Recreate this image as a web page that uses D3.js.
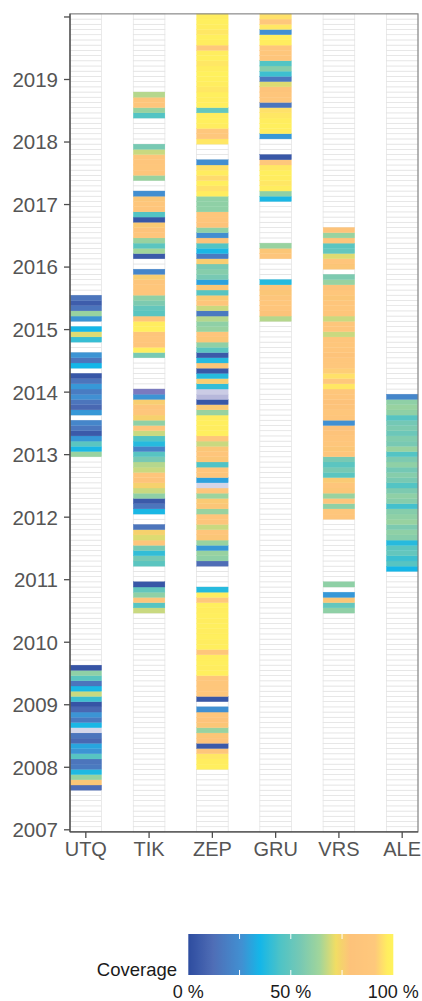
<!DOCTYPE html>
<html>
<head>
<meta charset="utf-8">
<script src="https://cdn.jsdelivr.net/npm/d3@7"></script>
<style>
  body { margin: 0; background: #fff; }
  svg { display: block; font-family: "Liberation Sans", Arial, sans-serif; }
</style>
</head>
<body>
<div id="chart"></div>
<script>
// stations on the x axis
const stations = ["UTQ", "TIK", "ZEP", "GRU", "VRS", "ALE"];
const yearTicks = d3.range(2007, 2021);
const yearLabels = d3.range(2007, 2020);
const legendLabels = [0, 50, 100];
const legendTicks = [25, 50, 75];

// monthly coverage in %, blocks of consecutive months: [first month, values], null = no data
const UTQ = [
  ["2007-09", [12, 78, 62, 37, 17, 15, 47, 27, 31, 10, 15, null, 36, 17, 27, 10, 3, 42, 68, 36, 15, 48, 60, 3]],
  ["2013-01", [62, 36, 48, 28, 5, 16, 22, null, 28, 10, 15, 26, 18, 28, 15, 4, null, 35, 15, 27, null, null, 41, 70, 35, null, 27, 62, 15, 6, 15]]
];
const TIK = [
  ["2010-07", [68, 47, 84, 60, 50, 4, null, null, null, 48, 54, 40, 55, 85, 70, 75, 15, null, null, 36, 15, 5,
    60, 68, 75, 80, 85, 68, 66, 55, 47, 20, 38, 45, 68, 85, 60, 75, 86, 84, 76, 27, null,
    null, null, null, null, null, null, 55, 97, 85, 86, 84, 98, 97, 85, 48, 50, 56, 60, 85, 86, 84, 76, 22,
    null, null, 5, 64, 48, 62, 85, 80, 77, 4, 46, 85, 86, 78, 25, null, null, 62, 85, 86, 85, 84, 68, 55,
    null, null, null, null, null, 46, 62, 85, 84, 66]]
];
const ZEP = [
  ["2008-01", [98, 97, 96, 86, 5, 80, 78, 62, 78, 80, 86, 26, null, 4, 86, 86, 86, 86, 98, 97, 98, 97, 87,
    98, 97, 98, 97, 98, 97, 98, 97, 98, 90, 97, 38, null, null, null, null, 12, 60, 62, 28, 62, 78, 85,
    68, 84, 85, 62, 78, 77, 63, 86, null, 30, 84, 85, 45, 78, 85, 78, 68, 86, 98, 97, 98, 97, 62, 77, 4, null, null,
    40, 76, 38, 4, 78, 38, 5, 48, 60, 78, 85, 62, 60, 66, 17, 68, 85, 77, 47, 78, 30, 55, 58, 55,
    76, 18, 36, 46, 80, 25, 60, 80, 85, 86, 60, 60, 60, 97, 95, 98, 94, 97, 95, 25, null, null, null,
    96, 88, 88, 97, 98, 97, 50, 98, 97, 98, 96, 97, 98, 99, 97, 96, 98, 97, 90, 97, 98, 96, 97, 98, 97]]
];
const GRU = [
  ["2015-03", [66, 80, 85, 86, 84, 78, 85, 38, null, null, null, null, 84, 78, 62, null, null, null, null, null, null, null, null,
    36, 60, 97, 96, 97, 98, 96, 88, 4, null, null, null, 28, 97, 98, 97, 96, 95, 15, 86, 85, 80, 70, 16, 42,
    58, 46, 85, 86, 87, 97, 98, 26, 96, 88, 95]]
];
const VRS = [
  ["2010-07", [60, 50, 78, 28, null, 60]],
  ["2012-01", [85, 86, 60, 85, 62, 78, 85, 77, 48, 55, 48, 55, 85, 78, 86, 85, 80, 79, 26, 85, 86, 80, 79, 85,
    86, 96, 90, 95, 92, 88, 86, 80, 85, 86, 85, 68, 85, 86, 68, 85, 86, 85, 78, 86, 80, 62, 56, null, 78, 85,
    70, 50, 48, 85, 62, 80]]
];
const ALE = [
  ["2011-03", [35, 47, 42, 50, 48, 38, 58, 60, 56, 62, 60, 58, 43, 58, 60, 56, 46, 55, 58, 54, 60, 56, 46, 62,
    55, 57, 52, 56, 54, 47, 60, 62, 60, 22]]
];
// months drawn in a separate lilac shade (station, month, shade 0-1)
const flagged = [["UTQ", "2008-08", 0.1], ["TIK", "2014-01", 1], ["ZEP", "2012-07", 0.12], ["ZEP", "2013-12", 0.4], ["ZEP", "2014-01", 0.2]];

// colour bar stops
const colourStops = [0, 12, 26, 35, 45, 55, 64, 72, 79, 91, 97, 100];
const colourRange = ["#2d4c9f", "#4f6db6", "#4190d2", "#14b6e8", "#4fc3c6", "#78c9b3", "#a1d59b", "#f1dd64", "#fdc27a", "#fec87c", "#ffed5f", "#fff35c"];

const blocks = { UTQ, TIK, ZEP, GRU, VRS, ALE };

const width = 422, height = 1001;
const svg = d3.select("#chart").append("svg")
  .attr("width", width)
  .attr("height", height);

const x = d3.scaleBand().domain(stations).range([70, 418]).paddingInner(0.5).paddingOuter(0);
const y = d3.scaleLinear().domain([2007, 2019]).range([829.3, 79.0]);
const colour = d3.scaleLinear().domain(colourStops).range(colourRange).clamp(true);
const lilac = d3.scaleLinear().domain([0, 1]).range(["#dfe1ee", "#7a7abf"]);

const monthIndex = s => { const [yy, mm] = s.split("-").map(Number); return (yy - 2007) * 12 + mm - 1; };
const half = 1 / 24;
const yTop = y(2020 + half), yBottom = y(2007 - half);

// one cell for every month and station
const cells = [];
stations.forEach(st => {
  const vals = new Map();
  blocks[st].forEach(([from, values]) => {
    const m0 = monthIndex(from);
    values.forEach((v, i) => { if (v != null) vals.set(m0 + i, { v }); });
  });
  flagged.filter(f => f[0] === st).forEach(f => vals.set(monthIndex(f[1]), { flag: f[2] }));
  for (let m = 0; m <= 156; m++) cells.push({ st, m, d: vals.get(m) });
});

const t = c => 2007 + c.m / 12;
const cellColour = c => !c.d ? "#fff" : (c.d.flag != null ? lilac(c.d.flag) : colour(c.d.v));

// empty months first, so their grey outlines sit under the coloured ones
svg.append("g")
  .selectAll("rect")
  .data(cells.filter(c => !c.d))
  .join("rect")
    .attr("x", c => x(c.st))
    .attr("y", c => y(t(c) + half))
    .attr("width", x.bandwidth())
    .attr("height", c => y(t(c) - half) - y(t(c) + half))
    .attr("fill", "#fff")
    .attr("stroke", "#e2e2e2")
    .attr("stroke-width", 0.7);

svg.append("g")
  .selectAll("rect")
  .data(cells.filter(c => c.d))
  .join("rect")
    .attr("x", c => x(c.st))
    .attr("y", c => y(t(c) + half))
    .attr("width", x.bandwidth())
    .attr("height", c => y(t(c) - half) - y(t(c) + half))
    .attr("fill", cellColour)
    .attr("stroke", cellColour)
    .attr("stroke-width", 0.3);

// panel border
svg.append("rect")
  .attr("x", 70).attr("y", yTop)
  .attr("width", 418 - 70).attr("height", yBottom - yTop)
  .attr("fill", "none")
  .attr("stroke", "#7f7f7f")
  .attr("stroke-width", 1.1);

// y axis
const yAxis = svg.append("g").attr("transform", "translate(70,0)")
  .call(d3.axisLeft(y).tickValues(yearTicks).tickSize(6).tickFormat(d => yearLabels.includes(d) ? d : ""));
yAxis.select(".domain").attr("d", `M0,${yTop}V${yBottom}`).attr("stroke", "#4d4d4d").attr("stroke-width", 1.3);
yAxis.selectAll(".tick line").attr("stroke", "#4d4d4d").attr("stroke-width", 1.3);
yAxis.selectAll(".tick text")
  .attr("x", -12)
  .attr("dy", "0.36em")
  .attr("fill", "#555")
  .style("font-size", "20.5px")
  .style("font-family", "Liberation Sans, Arial, sans-serif");

// x axis
const xAxis = svg.append("g").attr("transform", `translate(0,${yBottom})`)
  .call(d3.axisBottom(x).tickSize(6).tickPadding(4));
xAxis.select(".domain").attr("d", `M70,0H418`).attr("stroke", "#4d4d4d").attr("stroke-width", 1.3);
xAxis.selectAll(".tick line").attr("stroke", "#4d4d4d").attr("stroke-width", 1.3);
xAxis.selectAll(".tick text")
  .attr("fill", "#555")
  .style("font-size", "20px")
  .style("font-family", "Liberation Sans, Arial, sans-serif");

// colour bar legend
const lx = d3.scaleLinear().domain([0, 100]).range([188.3, 393.3]);
const barTop = 934, barH = 41;
const grad = svg.append("defs").append("linearGradient").attr("id", "cov");
d3.range(0, 101, 1).forEach(v => {
  grad.append("stop").attr("offset", v + "%").attr("stop-color", colour(v));
});
svg.append("rect")
  .attr("x", lx(0)).attr("y", barTop)
  .attr("width", lx(100) - lx(0)).attr("height", barH)
  .attr("fill", "url(#cov)");
legendTicks.forEach(v => {
  svg.append("line").attr("x1", lx(v)).attr("x2", lx(v)).attr("y1", barTop).attr("y2", barTop + 5)
    .attr("stroke", "#fff").attr("stroke-width", 1);
  svg.append("line").attr("x1", lx(v)).attr("x2", lx(v)).attr("y1", barTop + barH - 5).attr("y2", barTop + barH)
    .attr("stroke", "#fff").attr("stroke-width", 1);
});
svg.selectAll(".leglab")
  .data(legendLabels)
  .join("text")
    .attr("class", "leglab")
    .attr("x", d => lx(d))
    .attr("y", 998)
    .attr("text-anchor", "middle")
    .attr("fill", "#1a1a1a")
    .style("font-size", "18px")
    .text(d => d + " %");
svg.append("text")
  .attr("x", 177).attr("y", 976)
  .attr("text-anchor", "end")
  .attr("fill", "#1a1a1a")
  .style("font-size", "18.5px")
  .text("Coverage");
</script>
</body>
</html>
